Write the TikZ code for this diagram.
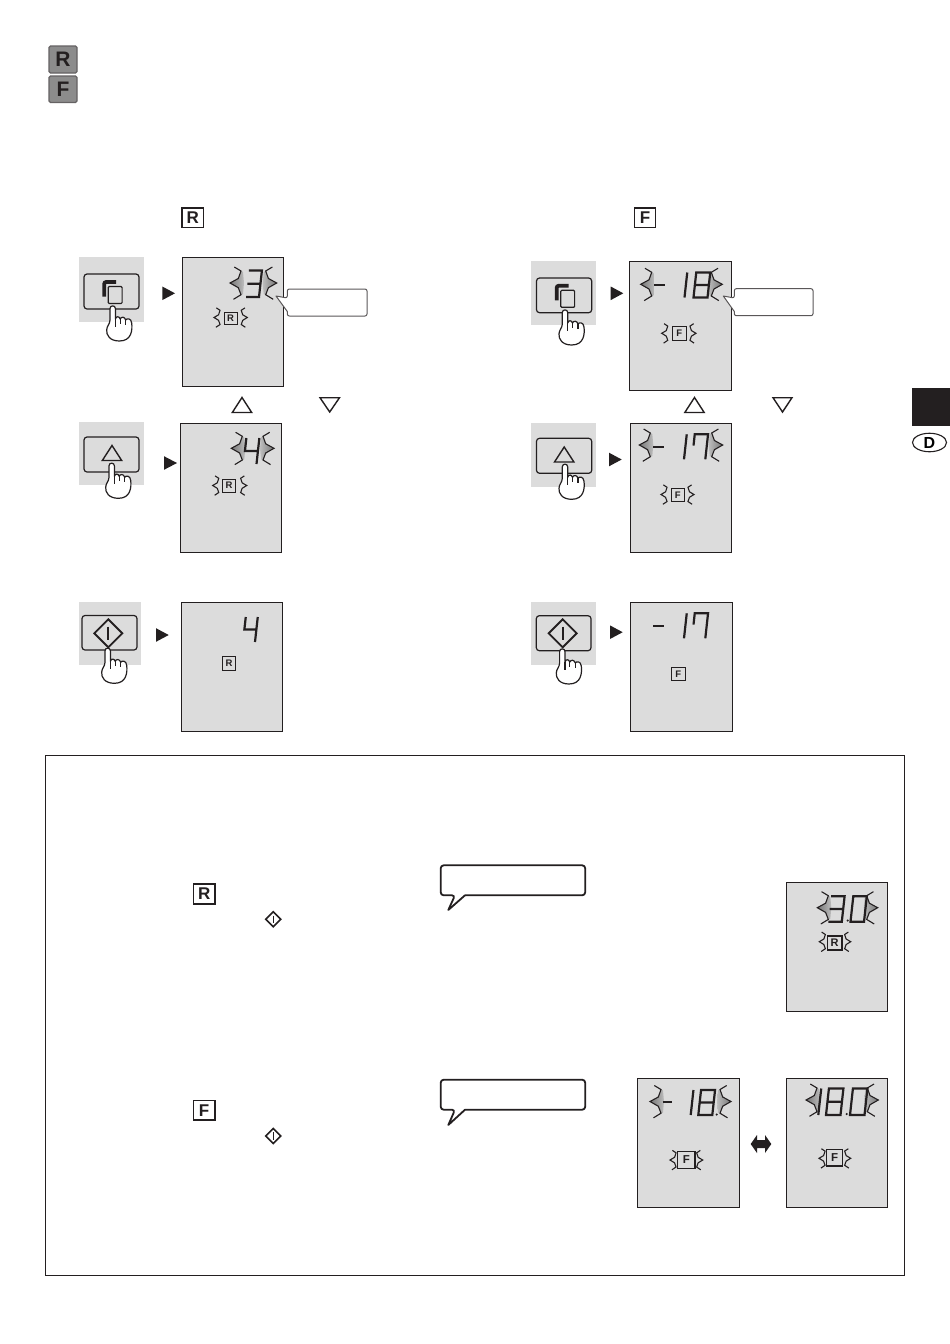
\documentclass[tikz,border=0pt]{standalone}
\usepackage{fontspec}
\usetikzlibrary{shapes.geometric}
\setmainfont{Liberation Sans}
\definecolor{lcd}{HTML}{DCDCDC}
\definecolor{ink}{HTML}{231F20}
\definecolor{burstgray}{HTML}{6A6A6A}
\definecolor{tilegray}{HTML}{8C8C8C}
\newcounter{autonode}
\tikzset{
  lcdpanel/.style={draw=ink,line width=1.1pt,fill=lcd},
  padarea/.style={fill=lcd},
  padkey/.style={draw=ink,line width=1.2pt,rounded corners=3pt,fill=lcd},
  seg/.style={draw=ink,line width=2.2pt,line join=miter},
  burstline/.style={draw=ink,line width=1.1pt,line join=miter},
  keyframe/.style={draw=ink,line width=1.5pt,fill=white},
  lcdframe/.style={draw=ink,line width=1.1pt,fill=lcd},
  smallkey/.style={draw=ink,line width=1pt,fill=lcd},
  darkkey/.style={draw=ink!70,line width=1.2pt,fill=tilegray,rounded corners=1.5pt},
  tri/.style={draw=ink,line width=1.4pt,line join=miter},
  go/.style={fill=ink},
  handline/.style={draw=ink,line width=1.2pt,fill=white,line join=round},
  note/.style={draw=ink!75,line width=1pt,fill=white,line join=round},
  speech/.style={draw=ink,line width=1.8pt,fill=white,line join=round},
  letter/.style={inner sep=0pt,text=ink,font=\bfseries},
}
% seven segment shapes: unit box, y up
\expandafter\def\csname dg3\endcsname{(0,1)--(1,1)--(1,0)--(0,0) (0,.5)--(1,.5)}
\expandafter\def\csname dg4\endcsname{(0,1)--(0,.5)--(1,.5) (1,1)--(1,0)}
\expandafter\def\csname dg1\endcsname{(0,1)--(0,0)}
\expandafter\def\csname dg8\endcsname{(0,0)--(1,0)--(1,1)--(0,1)--cycle (0,.5)--(1,.5)}
\expandafter\def\csname dg0\endcsname{(0,0)--(1,0)--(1,1)--(0,1)--cycle}
\expandafter\def\csname dg7\endcsname{(0,.55)--(0,1)--(1,1)--(1,0)}
\newcommand\dgt[5]{% x y w h char
  \expandafter\let\expandafter\dgtpath\csname dg#5\endcsname
  \begin{scope}[shift={(#1,#2)},xslant=0.11,x=#3pt,y=#4pt]
    \draw[seg] \dgtpath;
  \end{scope}}
\newcommand\minusseg[3]{\draw[seg] (#1,#3)--(#2,#3);}
\newcommand\dotseg[2]{\fill[ink] (#1,#2) circle (1.2);}
\newcommand\burstshape[4]{% x y signed-sx sy
  \begin{scope}[shift={(#1,#2)},x=#3pt,y=-#4pt]
    \draw[burstline] (4.3,-16)--(11,-12)--(8.3,-4.5)--(0,0)--(8.3,4.7)--(11,11.7)--(3.5,16.3);
  \end{scope}}
\newcommand\bigburst[3]{% lefttip-x righttip-x y
  \begin{scope}[shift={(#1,#3)},x=1pt,y=-1pt]
    \clip (4.3,-16)--(11,-12)--(8.3,-4.5)--(0,0)--(8.3,4.7)--(11,11.7)--(3.5,16.3)--(13,11)--(14,0)--(13,-11)--cycle;
    \shade[left color=burstgray,right color=lcd] (-2,-18) rectangle (20,18);
  \end{scope}
  \begin{scope}[shift={(#2,#3)},x=-1pt,y=-1pt]
    \clip (4.3,-16)--(11,-12)--(8.3,-4.5)--(0,0)--(8.3,4.7)--(11,11.7)--(3.5,16.3)--(13,11)--(14,0)--(13,-11)--cycle;
    \shade[right color=burstgray,left color=lcd] (-2,-18) rectangle (20,18);
  \end{scope}
  \burstshape{#1}{#3}{1}{1}\burstshape{#2}{#3}{-1}{1}}
\newcommand\smallburst[3]{\burstshape{#1}{#3}{.55}{.6}\burstshape{#2}{#3}{-.55}{.6}}
\newcommand\keyicon[7]{% style x0 y0 x1 y1 letter size
  \stepcounter{autonode}
  \draw[#1] (#2,#3) rectangle (#4,#5);
  \node[letter,font=\fontsize{#7}{#7}\selectfont\bfseries] (k\theautonode) at ({(#2+#4)/2},{(#3+#5)/2}) {#6};}
\newcommand\handicon[2]{%
  \begin{scope}[shift={(#1,#2)}]
    \draw[handline] (-2.7,2.5) .. controls (-2.7,-1) and (2.7,-1) .. (2.7,2.5) -- (2.7,13) .. controls (3.5,10) and (6.5,10) .. (7.5,13) .. controls (8.5,10.5) and (12,10.5) .. (13,14) .. controls (14,12) and (18.5,12) .. (19,17) .. controls (19.8,24) and (19,35) .. (6.7,35) .. controls (-3,35) and (-6.5,29) .. (-6,24) .. controls (-6,20) and (-2.7,18) .. (-2.7,14) -- cycle;
    \draw[draw=ink,line width=1.2pt] (2.7,13)--(2.7,21) (7.5,13)--(7.5,18) (13,14)--(13,18.5);
  \end{scope}}
\newcommand\goarrow[3]{\fill[go] (#1,{#3-6.8}) -- (#2,#3) -- (#1,{#3+6.8}) -- cycle;}
\newcommand\copysym[2]{%
  \begin{scope}[shift={(#1,#2)}]
    \draw[draw=ink,line width=3.8pt,rounded corners=2pt] (-7.3,5)--(-7.3,-9.5)--(4.5,-9.5);
    \draw[draw=ink,line width=1.2pt,fill=lcd,rounded corners=1pt] (-3.2,-5)rectangle(10.6,12);
  \end{scope}}
\newcommand\upsym[2]{\draw[tri] (#1,{#2-9})--({#1+9.7},{#2+6})--({#1-9.7},{#2+6})--cycle;}
\newcommand\startsym[4]{% x y half lw
  \draw[draw=ink,line width=#4pt,line join=miter] (#1,{#2-#3})--({#1+#3},#2)--(#1,{#2+#3})--({#1-#3},#2)--cycle;
  \draw[draw=ink,line width=#4pt] (#1,{#2-0.48*#3})--(#1,{#2+0.48*#3});}
\begin{document}
\begin{tikzpicture}[x=1pt,y=-1pt]
\useasboundingbox (0,0) rectangle (950,1344);
\fill[white] (0,0) rectangle (950,1344);

% top legend tiles
\keyicon{darkkey}{49}{46}{77}{73}{R}{21}
\keyicon{darkkey}{49}{76}{77}{102.5}{F}{21}

% side tab
\fill[ink] (912.3,388.3) rectangle (950,425.7);
\node[draw=ink,line width=1.1pt,ellipse,minimum width=34pt,minimum height=18.5pt,inner sep=0pt,font=\fontsize{16}{16}\selectfont\bfseries] (tabD) at (929.5,442.5) {D};

% column headings
\keyicon{keyframe}{182}{208}{203.5}{227.5}{R}{17}
\keyicon{keyframe}{634.3}{208}{655.7}{227.5}{F}{17}

% ---- left column, row 1
\fill[padarea] (79,257) rectangle (144,322);
\draw[padkey] (84,274) rectangle (139,309);
\copysym{111.5}{291.5}
\handicon{112.7}{306}
\goarrow{162.3}{175}{293.3}
\draw[lcdpanel] (182.3,257.3) rectangle (283.7,386.5);
\bigburst{230}{276.7}{283}
\dgt{246}{297}{13}{26.5}{3}
\smallburst{214}{247.3}{317.5}
\keyicon{smallkey}{224}{312}{237}{324.5}{R}{9.5}
\draw[note] (287.3,298) [sharp corners] -- (276,296) -- (287.3,311.5) [rounded corners=2pt] -- (287.3,316) -- (367,316) -- (367,289) -- (287.3,289) -- cycle;
% triangle legend
\upsym{242}{406.5}
\draw[tri] (320,397.7)--(339.5,397.7)--(329.7,412)--cycle;

% ---- left column, row 2
\fill[padarea] (79,422) rectangle (143.5,485);
\draw[padkey] (84,437) rectangle (139,472);
\upsym{112}{454.5}
\handicon{111.7}{463.3}
\goarrow{164}{177}{463}
\draw[lcdpanel] (180.3,423.3) rectangle (281.7,552.5);
\bigburst{231.3}{274}{448.3}
\dgt{243.5}{464}{13}{26}{4}
\smallburst{212.7}{246.7}{485.5}
\keyicon{smallkey}{222.3}{479}{235.7}{492.3}{R}{9.5}

% ---- left column, row 3
\fill[padarea] (79,601.5) rectangle (141,665);
\draw[padkey] (82,615.5) rectangle (137,650);
\startsym{108.3}{633.3}{14}{1.8}
\handicon{107.7}{648.3}
\goarrow{156}{168.7}{635}
\draw[lcdpanel] (181.3,602.3) rectangle (282.7,731.5);
\dgt{243}{642}{12}{25}{4}
\keyicon{smallkey}{222.3}{656.7}{235.7}{670}{R}{9.5}

% ---- right column, row 1
\fill[padarea] (531,260.7) rectangle (596.3,325);
\draw[padkey] (536.5,278) rectangle (591.7,312.7);
\copysym{564}{295.3}
\handicon{565}{310}
\goarrow{610.7}{623.3}{293.3}
\draw[lcdpanel] (629.7,261.3) rectangle (731.7,390.3);
\bigburst{640.7}{722.3}{284.3}
\minusseg{654.3}{665}{285}
\dgt{684.5}{297.5}{1}{25}{1}
\dgt{693.5}{297.5}{14}{25}{8}
\smallburst{661.7}{696}{333.3}
\keyicon{smallkey}{672.7}{326.7}{686}{340}{F}{9.5}
\draw[note] (734.3,298) [sharp corners] -- (723.3,296) -- (734.3,311.5) [rounded corners=2pt] -- (734.3,315.7) -- (813,315.7) -- (813,288.7) -- (734.3,288.7) -- cycle;
\upsym{694.5}{406.5}
\draw[tri] (773,397.7)--(792,397.7)--(782.5,412)--cycle;

% ---- right column, row 2
\fill[padarea] (531,423.3) rectangle (596,486.7);
\draw[padkey] (536.5,438.3) rectangle (591.7,473.3);
\upsym{564.2}{456}
\handicon{565}{464.3}
\goarrow{609}{621.7}{459.5}
\draw[lcdpanel] (630.7,423.3) rectangle (731.7,552.3);
\bigburst{639.3}{722.7}{445}
\minusseg{653.3}{664}{446.7}
\dgt{684}{459.3}{1}{25}{1}
\dgt{692}{459.3}{13.3}{25}{7}
\smallburst{661}{694}{494.5}
\keyicon{smallkey}{671}{488.3}{684.3}{501.7}{F}{9.5}

% ---- right column, row 3
\fill[padarea] (531,601.7) rectangle (596,665);
\draw[padkey] (536.3,615.7) rectangle (591,650.7);
\startsym{562.7}{633.3}{14}{1.8}
\handicon{562.3}{649}
\goarrow{610}{622.7}{632.2}
\draw[lcdpanel] (630.7,602.3) rectangle (732.3,731.7);
\minusseg{653.3}{664}{625.7}
\dgt{684}{638.3}{1}{25}{1}
\dgt{692}{638.3}{13.3}{25}{7}
\keyicon{smallkey}{671.7}{667.3}{685}{680.7}{F}{9.5}

% ---- lower frame
\draw[draw=ink,line width=0.9pt] (45,755) rectangle (904.6,1275);
\keyicon{keyframe}{193.3}{884}{215}{904}{R}{17}
\startsym{273.3}{919.3}{7.5}{1.6}
\keyicon{keyframe}{193.3}{1100.7}{215}{1120}{F}{17}
\startsym{273.3}{1136}{7.5}{1.6}

\draw[speech] (455,895.3) [sharp corners] -- (448.3,910) -- (465,895.3) [rounded corners=3pt] -- (585.2,895.3) -- (585.2,865.3) -- (440.7,865.3) -- (440.7,895.3) -- cycle;
\draw[speech] (455,1109.7) [sharp corners] -- (448.3,1125) -- (465,1109.7) [rounded corners=3pt] -- (585.2,1109.7) -- (585.2,1079.7) -- (440.7,1079.7) -- (440.7,1109.7) -- cycle;

% 3.0 display
\draw[lcdpanel] (786.3,882.7) rectangle (887.7,1011.7);
\bigburst{817.3}{877.7}{907.7}
\dgt{828.3}{921.7}{13.5}{25.5}{3}
\dotseg{847.7}{920.5}
\dgt{850.5}{921.7}{13.5}{25.5}{0}
\smallburst{819.3}{850.7}{941.7}
\keyicon{lcdframe}{827.3}{936}{842}{950}{R}{11}

% -18. display
\draw[lcdpanel] (637.3,1078.3) rectangle (739.3,1207.3);
\bigburst{650}{731}{1101.5}
\minusseg{662.7}{672.3}{1102.3}
\dgt{690.7}{1115}{1}{25}{1}
\dgt{698.3}{1115}{14}{25}{8}
\dotseg{716.7}{1114.5}
\smallburst{670}{702.7}{1160}
\keyicon{lcdframe}{677.7}{1151.7}{695}{1168.3}{F}{11.5}

% double arrow
\fill[go] (750.7,1144)--(757,1135)--(757,1140)--(765,1140)--(765,1135)--(771.3,1144)--(765,1153)--(765,1148)--(757,1148)--(757,1153)--cycle;

% 18.0 display
\draw[lcdpanel] (786.3,1078.3) rectangle (887.7,1207.3);
\bigburst{806}{878.3}{1100}
\dgt{818.3}{1115}{1}{26.5}{1}
\dgt{826}{1115}{14.5}{26.5}{8}
\dotseg{846.7}{1114}
\dgt{850}{1115}{14.5}{26.5}{0}
\smallburst{819}{850.7}{1158.3}
\keyicon{lcdframe}{826.7}{1149.3}{842.7}{1166}{F}{11.5}
\end{tikzpicture}
\end{document}
